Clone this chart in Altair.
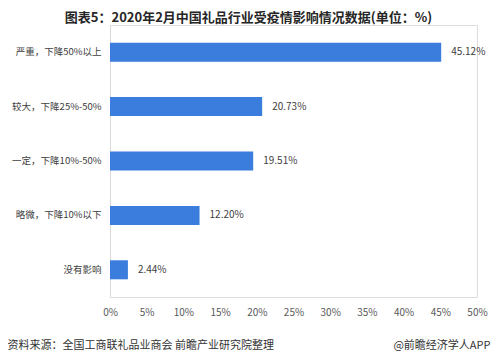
import altair as alt
import pandas as pd

categories = ["严重，下降50%以上", "较大，下降25%-50%", "一定，下降10%-50%", "略微，下降10%以下", "没有影响"]
values = [45.12, 20.73, 19.51, 12.20, 2.44]
labels = ["45.12%", "20.73%", "19.51%", "12.20%", "2.44%"]
ticks = [0, 5, 10, 15, 20, 25, 30, 35, 40, 45, 50]

df = pd.DataFrame({"cat": categories, "val": values, "lab": labels})

FONT = "Noto Sans CJK SC"

x = alt.X("val:Q",
          scale=alt.Scale(domain=[0, 50], nice=False),
          axis=alt.Axis(values=ticks, labelExpr="datum.value + '%'", labelOverlap=False,
                        labelFlush=False,
                        grid=False, domain=False, ticks=False, labelPadding=10,
                        labelColor="#595959", labelFontSize=10, labelFont=FONT,
                        title="资料来源：全国工商联礼品业商会 前瞻产业研究院整理",
                        titleX=-103, titleY=48, titleAlign="left", titleBaseline="middle",
                        titleFontWeight="normal", titleFontSize=11, titleColor="#333333",
                        titleFont=FONT))
y = alt.Y("cat:N", sort=categories,
          scale=alt.Scale(paddingInner=0.65, paddingOuter=0.325),
          axis=alt.Axis(ticks=False, domainColor="#d9d9d9", labelPadding=9,
                        labelColor="#404040", labelFontSize=9.5, labelFont=FONT, labelLimit=200,
                        title="@前瞻经济学人APP", titleAngle=0, titleX=380, titleY=48 + 272,
                        titleAlign="right", titleBaseline="middle",
                        titleFontWeight="normal", titleFontSize=11, titleColor="#333333",
                        titleFont=FONT))

bars = alt.Chart(df).mark_bar(color="#3a7ddd").encode(x=x, y=y)
text = alt.Chart(df).mark_text(align="left", dx=10, fontSize=10, color="#404040", font=FONT).encode(
    x=x, y=y, text="lab:N")

chart = (bars + text).properties(
    width=367, height=272,
    autosize=alt.AutoSizeParams(type="none"),
    padding={"left": 102, "top": 17, "right": 14, "bottom": 56},
    title=alt.TitleParams("图表5：2020年2月中国礼品行业受疫情影响情况数据(单位：%)",
                          anchor="middle", frame="bounds", fontSize=13, fontWeight="bold",
                          font=FONT, color="#262626", offset=0),
).configure_view(strokeWidth=0).configure(background="white")

chart.save("out.html", embed_options={"renderer": "svg", "actions": False})
